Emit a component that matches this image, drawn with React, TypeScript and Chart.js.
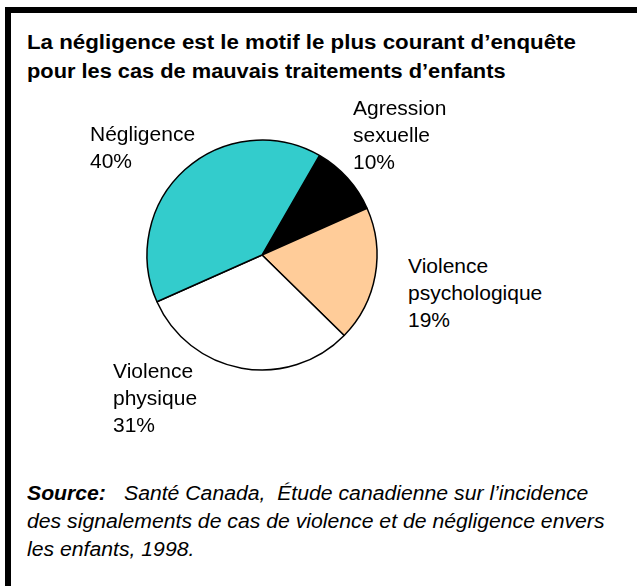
import React, { useEffect, useRef } from "react";
import { Chart, registerables } from "chart.js";

Chart.register(...registerables);

const categories = ["Agression sexuelle", "Violence psychologique", "Violence physique", "Négligence"];
const labelLines = [["Agression", "sexuelle"], ["Violence", "psychologique"], ["Violence", "physique"], ["Négligence"]];
const values = [10, 19, 31, 40];
const colors = ["#000000", "#FFCC99", "#FFFFFF", "#33CCCC"];
const titleLines = ["La négligence est le motif le plus courant d’enquête", "pour les cas de mauvais traitements d’enfants"];
const sourceLabel = "Source:";
const sourceLines = ["Santé Canada,  Étude canadienne sur l’incidence", "des signalements de cas de violence et de négligence envers", "les enfants, 1998."];

const FONT = '"Liberation Sans", Arial, Helvetica, sans-serif';

// label block positions (top-left of text blocks), same order as categories
const labelPos = [
  { left: 353, top: 94.6 },
  { left: 408, top: 252.6 },
  { left: 113, top: 357.6 },
  { left: 90, top: 120.6 },
];

export default function App() {
  const ref = useRef<HTMLCanvasElement | null>(null);
  useEffect(() => {
    if (!ref.current) return;
    const chart = new Chart(ref.current, {
      type: "pie",
      data: {
        labels: categories,
        datasets: [
          {
            data: values,
            backgroundColor: colors,
            borderColor: "#000000",
            borderWidth: 1.5,
          },
        ],
      },
      options: {
        responsive: false,
        animation: false,
        rotation: 30,
        radius: 115,
        layout: { padding: 0 },
        plugins: { legend: { display: false }, tooltip: { enabled: false }, title: { display: false } },
        elements: { arc: { borderAlign: "center" } },
      },
    });
    return () => chart.destroy();
  }, []);

  const textBase: React.CSSProperties = {
    position: "absolute",
    fontFamily: FONT,
    whiteSpace: "pre",
    color: "#000",
    margin: 0,
    transformOrigin: "0 0",
  };

  return (
    <div style={{ position: "fixed", left: 0, top: 0, width: 637, height: 586, background: "#fff", overflow: "hidden" }}>
      <div style={{ ...textBase, left: 16, top: -20, fontSize: 18, fontWeight: "bold", lineHeight: "20px" }}>Figure</div>
      <div
        style={{
          position: "absolute",
          left: 5,
          top: 7,
          width: 700,
          height: 700,
          borderTop: "6px solid #000",
          borderLeft: "6px solid #000",
        }}
      />
      <div
        style={{
          ...textBase,
          left: 27,
          top: 27.6,
          fontSize: 20,
          fontWeight: "bold",
          lineHeight: "29px",
          transform: "scaleX(1.115)",
        }}
      >
        {titleLines[0]}
      </div>
      <div
        style={{
          ...textBase,
          left: 27,
          top: 56.6,
          fontSize: 20,
          fontWeight: "bold",
          lineHeight: "29px",
          transform: "scaleX(1.09)",
        }}
      >
        {titleLines[1]}
      </div>
      <canvas ref={ref} width={260} height={260} style={{ position: "absolute", left: 132, top: 125, width: 260, height: 260 }} />
      {labelLines.map((lines, i) => (
        <div
          key={i}
          style={{
            ...textBase,
            left: labelPos[i].left,
            top: labelPos[i].top,
            fontSize: 20,
            lineHeight: "27px",
            transform: "scaleX(1.05)",
          }}
        >
          {[...lines, `${values[i]}%`].join("\n")}
        </div>
      ))}
      <div
        style={{
          ...textBase,
          left: 27,
          top: 479,
          fontSize: 20,
          lineHeight: "28px",
          fontStyle: "italic",
          fontWeight: "bold",
          transform: "scaleX(1.06)",
        }}
      >
        {sourceLabel}
      </div>
      <div
        style={{
          ...textBase,
          left: 124,
          top: 479,
          fontSize: 20,
          lineHeight: "28px",
          fontStyle: "italic",
          transform: "scaleX(1.06)",
        }}
      >
        {sourceLines[0]}
      </div>
      <div
        style={{
          ...textBase,
          left: 27,
          top: 507,
          fontSize: 20,
          lineHeight: "28px",
          fontStyle: "italic",
          transform: "scaleX(1.06)",
        }}
      >
        {sourceLines[1] + "\n" + sourceLines[2]}
      </div>
    </div>
  );
}
